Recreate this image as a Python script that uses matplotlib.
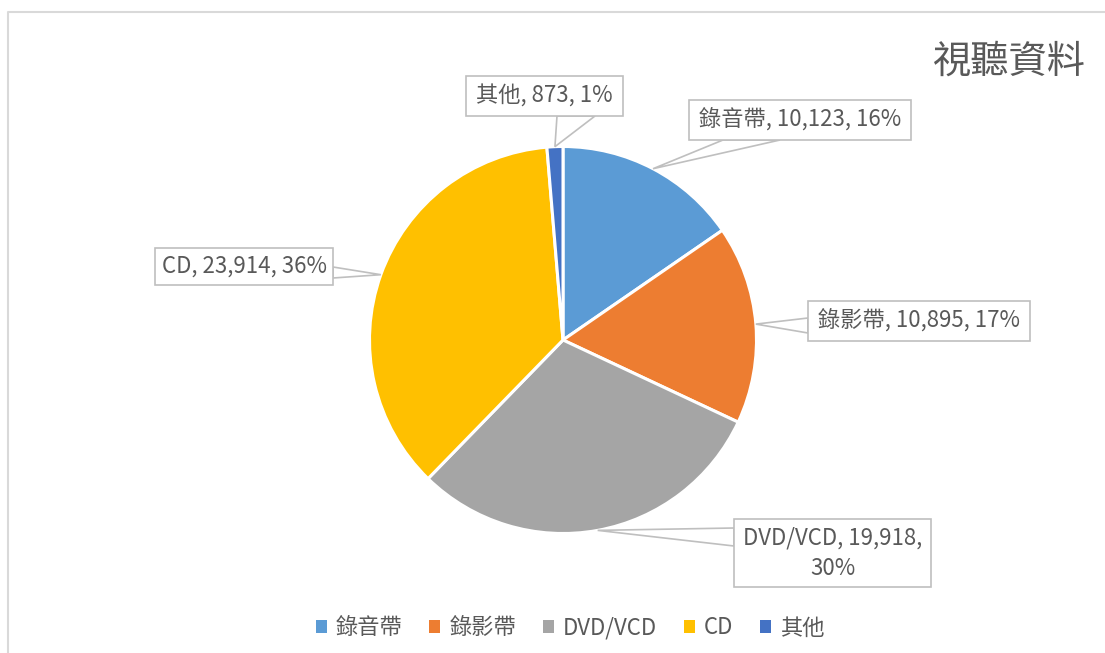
import matplotlib
matplotlib.use("Agg")
import matplotlib.pyplot as plt
from matplotlib.patches import Polygon, Rectangle
import numpy as np

plt.rcParams['font.family'] = ['Noto Sans CJK TC', 'DejaVu Sans']

# ---- data ----
categories = ['錄音帶', '錄影帶', 'DVD/VCD', 'CD', '其他']
values = [10123, 10895, 19918, 23914, 873]
value_labels = ['10,123', '10,895', '19,918', '23,914', '873']
pct_labels = ['16%', '17%', '30%', '36%', '1%']
colors = ['#5B9BD5', '#ED7D31', '#A5A5A5', '#FFC000', '#4472C4']
title = '視聽資料'

W, H = 1105, 653
fig = plt.figure(figsize=(W / 100, H / 100), dpi=100)
ax = fig.add_axes([0, 0, 1, 1])
ax.set_xlim(0, W)
ax.set_ylim(0, H)
ax.axis('off')

def Y(y):
    return H - y

text_color = '#595959'
box_edge = '#BFBFBF'

# outer chart frame
ax.plot([8, 8, W + 5], [Y(H + 5), Y(12), Y(12)], color='#D9D9D9', lw=1.5, zorder=1)

cx, cy, r = 563, Y(340), 193.5
wedges, _ = ax.pie(values, colors=colors, startangle=90, counterclock=False,
                   center=(cx, cy), radius=r, frame=True,
                   wedgeprops=dict(edgecolor='white', linewidth=2.2))
ax.set_xlim(0, W)
ax.set_ylim(0, H)
ax.set_aspect('equal')
ax.axis('off')

# label boxes: (x0, y0_top, x1, y1_bottom) in pixel coords, and pointer base
boxes = [
    (689, 100, 911, 140, ((723, 140), (780, 140))),
    (808, 301, 1030, 341, ((808, 318), (808, 333))),
    (734, 519, 931, 587, ((734, 528), (734, 546))),
    (155, 248, 333, 285, ((333, 267), (333, 278))),
    (466, 76, 623, 116, ((557, 116), (595, 116))),
]
texts = []
for c, v, p in zip(categories, value_labels, pct_labels):
    if c == 'DVD/VCD':
        texts.append(f'{c}, {v},\n{p}')
    else:
        texts.append(f'{c}, {v}, {p}')

total = float(sum(values))
cum = 0.0
for i, val in enumerate(values):
    mid = (cum + val / 2) / total * 2 * np.pi
    cum += val
    tip = (cx + r * np.sin(mid), cy + r * np.cos(mid))
    x0, y0, x1, y1, (b1, b2) = boxes[i]
    tri = Polygon([(b1[0], Y(b1[1])), tip, (b2[0], Y(b2[1]))], closed=True,
                  facecolor='none', edgecolor=box_edge, lw=1.2, zorder=4)
    ax.add_patch(tri)
    rect = Rectangle((x0, Y(y1)), x1 - x0, y1 - y0, facecolor='white',
                     edgecolor=box_edge, lw=1.2, zorder=5)
    ax.add_patch(rect)
    ax.text((x0 + x1) / 2, Y((y0 + y1) / 2), texts[i], ha='center', va='center',
            fontsize=16, color=text_color, zorder=6, linespacing=1.4,
            fontweight='light')

ax.text(1086, Y(62), title, ha='right', va='center', fontsize=27.5,
        color=text_color, fontweight='light')

leg = fig.legend(wedges, categories, loc='center', bbox_to_anchor=(570 / W, 1 - 628 / H),
                 ncol=5, frameon=False, prop=dict(size=16, weight='light'),
                 handlelength=0.5, handleheight=0.5,
                 handletextpad=0.4, columnspacing=1.2, labelcolor=text_color)
for h in leg.legend_handles:
    h.set_edgecolor('none')

fig.savefig('out.png', dpi=100)
